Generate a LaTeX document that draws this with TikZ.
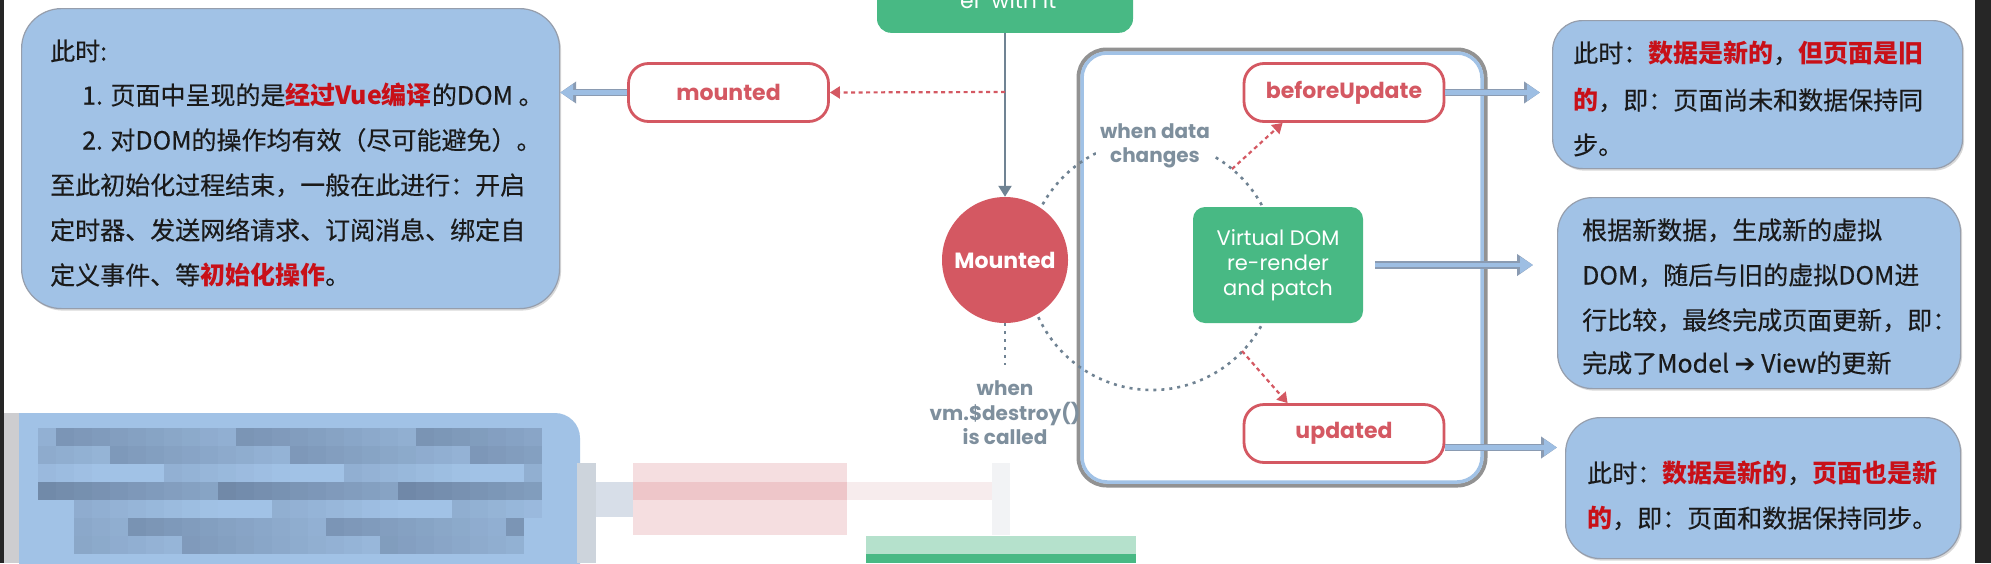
\documentclass[tikz,border=0pt]{standalone}
\usepackage{fontspec}
\newfontfamily\cjk{Noto Sans CJK SC}[UprightFeatures={FakeBold=0.35}]
\newfontfamily\pop{Poppins}
\newfontfamily\djv{DejaVu Sans}
\usetikzlibrary{arrows.meta,shadows}
\definecolor{bluefill}{RGB}{161,194,230}
\definecolor{blueedge}{RGB}{150,158,172}
\definecolor{vred}{RGB}{212,88,98}
\definecolor{vgreen}{RGB}{72,185,132}
\definecolor{slate}{RGB}{112,131,147}
\definecolor{slatetext}{RGB}{126,143,157}
\definecolor{hlred}{RGB}{200,16,24}
\definecolor{arrowfill}{RGB}{157,190,227}
\definecolor{arrowedge}{RGB}{138,155,178}
\definecolor{edgedark}{RGB}{38,38,38}
\definecolor{txt}{RGB}{26,26,26}
\definecolor{mzA}{RGB}{205,205,208}
\definecolor{mzC}{RGB}{100,122,152}
\definecolor{mzE}{RGB}{205,212,220}
\definecolor{mzF}{RGB}{215,222,232}
\definecolor{mzG}{RGB}{245,222,224}
\definecolor{mzH}{RGB}{238,198,201}
\definecolor{mzI}{RGB}{247,236,237}
\definecolor{mzJ}{RGB}{242,243,245}
\definecolor{mzK}{RGB}{181,225,204}
\newcommand{\rb}[1]{{\bfseries\color{hlred}#1}}
\begin{document}
\begin{tikzpicture}[x=1pt,y=-1pt,
  bluebox/.style={fill=bluefill, draw=blueedge, line width=1.2pt, anchor=north west, inner sep=0pt,
    drop shadow={shadow xshift=1.5pt, shadow yshift=-2pt, opacity=0.3}},
  ln/.style={anchor=base west, inner sep=0pt, text=txt, font=\cjk\fontsize{25}{30}\selectfont},
  hook/.style={draw=vred, line width=2.8pt, fill=white, rounded corners=20pt, minimum width=200pt,
    minimum height=58pt, inner sep=0pt, text=vred, font=\pop\bfseries\fontsize{22}{26}\selectfont},
  barrow/.style={draw=arrowfill, line width=4.5pt, -{Triangle[length=13pt,width=16pt]},
    preaction={draw=arrowedge, line width=7.5pt, -{Triangle[length=16pt,width=21pt]}}},
  rdash/.style={draw=vred, line width=2.2pt, dash pattern=on 4pt off 3.5pt, -{Triangle[length=10pt,width=12pt]}},
  garrow/.style={draw=slate, line width=2.2pt, -{Triangle[length=11pt,width=13pt]}},
  gdot/.style={draw=slate, line width=2.6pt, dash pattern=on 3pt off 5pt},
  glabel/.style={align=center, text=slatetext, font=\pop\bfseries\fontsize{20}{24.5}\selectfont}
]
\useasboundingbox (0,0) rectangle (1991,563);
\fill[white] (0,0) rectangle (1991,563);

% ---- pixelated (mosaic) area at the bottom left ----
\fill[bluefill, rounded corners=25pt] (19,413) rectangle (580,620);
\fill[bluefill] (19,413) rectangle (100,480);
\fill[mzA] (3,413) rectangle (19,563);
\foreach \r/\y/\base/\cs/\ce in {0/428/45/0/27, 1/446/40/0/27, 2/464/8/0/27, 3/482/62/0/27, 4/500/10/0/27, 5/518/45/2/26, 6/536/35/2/26} {
  \foreach \c in {\cs,...,\ce} {
    \pgfmathtruncatemacro{\shd}{max(0,min(100,\base+mod(\c*37+\r*53,41)-20))}
    \fill[mzC!\shd!bluefill] (38+\c*18,\y) rectangle ++(18,18);
  }
}
\fill[mzE] (577,463) rectangle (596,563);
\fill[mzF] (596,482) rectangle (633,517);
\fill[mzG] (633,463) rectangle (847,535);
\fill[mzH] (633,482) rectangle (847,500);
\fill[mzI] (847,482) rectangle (1010,500);
\fill[mzJ] (992,463) rectangle (1010,535);
\fill[mzK] (866,536) rectangle (1136,554);
\fill[vgreen] (866,554) rectangle (1136,563);

% ---- container of the update loop ----
\draw[black!50, line width=4pt, rounded corners=28pt, opacity=0.85] (1078.5,49.5) rectangle (1485.5,485.5);
\draw[bluefill, line width=3.5pt, rounded corners=25pt] (1082,53) rectangle (1482,482);

% ---- dotted loop ----
\coordinate (C) at (1152,265);
\draw[gdot] (C) circle[radius=125];

% ---- blue text boxes ----
\node[bluebox, minimum width=538pt, minimum height=300pt, rounded corners=40pt] (LB) at (21,8) {};
\node[bluebox, minimum width=410pt, minimum height=148pt, rounded corners=30pt] (R1) at (1552,20) {};
\node[bluebox, minimum width=403pt, minimum height=191pt, rounded corners=35pt] (R2) at (1557,197) {};
\node[bluebox, minimum width=395pt, minimum height=141pt, rounded corners=35pt] (R3) at (1565,417) {};

\node[ln] (LB1) at (50,60.5) {此时:};
\node[ln] (LB2) at (82,104.5) {1. 页面中呈现的是\rb{经过Vue编译}的DOM 。};
\node[ln] (LB3) at (82,149.5) {2. 对DOM的操作均有效（尽可能避免）。};
\node[ln] (LB4) at (50,194.5) {至此初始化过程结束，一般在此进行：开启};
\node[ln] (LB5) at (50,239.5) {定时器、发送网络请求、订阅消息、绑定自};
\node[ln] (LB6) at (50,284.5) {定义事件、等\rb{初始化操作}。};

\node[ln] (R1a) at (1573,62.5) {此时：\rb{数据是新的}，\rb{但页面是旧}};
\node[ln] (R1b) at (1573,109.5) {\rb{的}，即：页面尚未和数据保持同};
\node[ln] (R1c) at (1573,154.5) {步。};

\node[ln] (R2a) at (1582,239.5) {根据新数据，生成新的虚拟};
\node[ln] (R2b) at (1582,284.5) {DOM，随后与旧的虚拟DOM进};
\node[ln] (R2c) at (1582,329.5) {行比较，最终完成页面更新，即：};
\node[ln] (R2d) at (1582,372.5) {完成了Model {\djv\bfseries ➔} View的更新};

\node[ln] (R3a) at (1587,482.5) {此时：\rb{数据是新的}，\rb{页面也是新}};
\node[ln] (R3b) at (1587,527.5) {\rb{的}，即：页面和数据保持同步。};

% ---- diagram nodes ----
\node[fill=vgreen, rounded corners=14pt, minimum width=256pt, minimum height=110pt, anchor=south, inner sep=0pt] (top) at (1005,33) {};
\node[anchor=base, inner sep=0pt, text=white, font=\pop\fontsize{22}{26}\selectfont] (toptext) at (1005,8) {"el" with it};

\node[hook] (mt) at (728.5,92.5) {mounted};
\node[hook] (bu) at (1344,92.5) {beforeUpdate};
\node[hook] (up) at (1344,433.5) {updated};

\node[circle, fill=vred, minimum size=126pt, inner sep=0pt, text=white,
  font=\pop\bfseries\fontsize{22}{26}\selectfont] (M) at (1005,260) {Mounted};

\node[fill=vgreen, rounded corners=12pt, minimum width=170pt, minimum height=116pt, align=center,
  text=white, font=\pop\fontsize{21}{25}\selectfont] (vd) at (1278,265) {Virtual DOM\\re-render\\and patch};

\node[glabel, fill=white, inner sep=4pt] (wdc) at (1155,146) {when data\\changes};
\node[glabel, inner sep=0pt] (wvd) at (1005,413) {when\\vm.\$destroy()\\is called};

% ---- connectors ----
\draw[garrow] (top.south) -- (M.north);
\coordinate (J) at (1005,92);
\draw[rdash] (J) -- (mt.east);
\draw[gdot] (M.south) -- ([yshift=16pt]wvd.north);

\coordinate (A1) at (1232,169);
\coordinate (A2) at (1242,351);
\draw[rdash] (A1) -- ([xshift=40pt]bu.south west);
\draw[rdash] (A2) -- ([xshift=45pt]up.north west);

\draw[barrow] (mt.west) -- (mt.west -| LB.east);
\draw[barrow, shorten >=12pt] (bu.east) -- (bu.east -| R1.west);
\draw[barrow, shorten <=12pt, shorten >=24pt] (vd.east) -- (vd.east -| R2.west);
\draw[barrow, shorten >=8pt] ([yshift=-14pt]up.east) -- ([yshift=-14pt]up.east -| R3.west);

% ---- screenshot edges ----
\fill[edgedark] (0,0) rectangle (4,563);
\fill[edgedark] (1975,0) rectangle (1991,563);
\end{tikzpicture}
\end{document}
